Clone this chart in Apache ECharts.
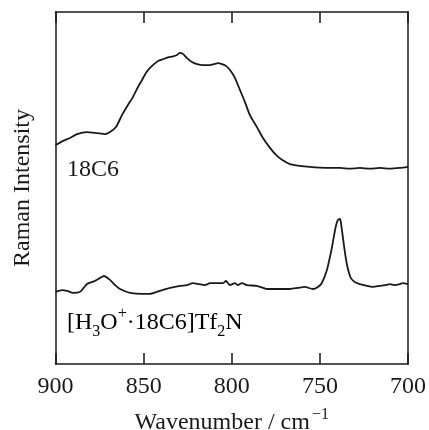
<!DOCTYPE html>
<html>
<head>
<meta charset="utf-8">
<script src="https://cdn.jsdelivr.net/npm/echarts@6/dist/echarts.min.js"></script>
<style>
  html, body { margin: 0; padding: 0; background: #fff; }
  #chart { width: 429px; height: 430px; }
</style>
</head>
<body>
<div id="chart"></div>
<script>
// Raman spectra, wavenumber (cm-1) vs. intensity (arbitrary units, offset traces)
const xTicks = [900, 850, 800, 750, 700];

const wn18C6 = [900, 895.7, 891.8, 887.8, 882.1, 876.5, 871.9, 869.1, 865.7, 862.3, 858.9, 856.0, 853.2, 850.9,
  848.7, 846.4, 844.1, 841.8, 839.0, 836.2, 833.3, 831.1, 829.4, 827.7, 825.4, 822.6, 819.7, 816.3, 812.4,
  810.1, 807.8, 805.5, 803.3, 801.0, 798.2, 795.3, 792.5, 789.7, 785.7, 782.3, 778.3, 774.9, 771.5, 767.0,
  761.3, 755.7, 750.0, 744.3, 738.6, 733.0, 727.3, 721.6, 716.0, 710.3, 704.6, 700];
const int18C6 = [62.2, 63.4, 64.2, 65.3, 65.9, 65.6, 65.3, 65.9, 67.3, 70.7, 73.6, 75.9, 78.7, 80.7,
  82.7, 84.1, 85.2, 86.1, 86.6, 87.1, 87.4, 87.8, 88.4, 88.1, 86.9, 85.8, 85.2, 84.9, 84.9,
  85.2, 85.5, 85.2, 84.7, 83.5, 81.3, 77.8, 74.4, 70.7, 67.3, 64.2, 61.4, 59.4, 58.0, 56.8,
  56.3, 56.0, 55.8, 55.7, 55.7, 55.5, 55.7, 55.5, 55.7, 55.5, 55.7, 56.0];

const wnComplex = [900, 896.3, 892.9, 890.1, 886.1, 882.1, 877.6, 874.8, 872.5, 869.1, 866.2, 863.4, 857.7,
  850.4, 846.4, 842.4, 835.0, 829.4, 825.4, 822.0, 818.6, 815.2, 812.3, 808.9, 804.9, 803.3, 801.0, 798.2,
  796.5, 794.2, 791.4, 785.7, 780.0, 773.8, 767.0, 762.5, 758.5, 754.0, 751.1, 748.9, 746.0, 744.3, 743.2,
  742.0, 740.9, 739.8, 738.6, 738.1, 736.9, 735.8, 734.7, 733.5, 732.4, 730.2, 727.3, 723.3, 719.9, 716.0,
  713.1, 710.3, 707.4, 704.6, 702.9, 700];
const intComplex = [20.5, 21.0, 20.7, 20.2, 20.5, 22.7, 23.6, 24.4, 25.0, 23.9, 22.4, 21.3, 20.2,
  19.9, 19.9, 20.5, 21.6, 22.2, 22.4, 23.0, 22.7, 22.4, 23.0, 23.0, 23.0, 23.6, 22.4, 23.0,
  22.4, 23.0, 22.4, 22.2, 21.3, 21.3, 21.3, 21.6, 21.9, 21.3, 21.9, 23.0, 26.7, 30.4, 33.0,
  36.4, 39.2, 40.9, 41.2, 40.3, 35.8, 31.8, 28.4, 25.9, 24.4, 23.3, 22.7, 22.2, 21.9, 22.2,
  22.4, 22.7, 22.4, 22.7, 23.0, 22.7];

const pairs = (xs, ys) => xs.map((x, i) => [x, ys[i]]);

const FONT = 'Liberation Serif';
const FS = 24;
const INK = '#1a1a1a';

const chart = echarts.init(document.getElementById('chart'), null, { renderer: 'canvas' });

const axisLine = { show: true, onZero: false, lineStyle: { color: INK, width: 1.5 } };
const innerTick = { show: true, inside: true, length: 11, lineStyle: { color: INK, width: 1.5 } };

chart.setOption({
  backgroundColor: '#fff',
  animation: false,
  grid: { left: 55.5, right: 21, top: 12, bottom: 66, containLabel: false, outerBoundsMode: 'none' },
  xAxis: [
    {
      type: 'value', position: 'bottom', inverse: true,
      min: 700, max: 900, interval: 50,
      axisLine: axisLine,
      axisTick: innerTick,
      axisLabel: {
        margin: 11, fontFamily: FONT, fontSize: FS, color: INK,
        formatter: v => xTicks.includes(v) ? String(v) : ''
      },
      splitLine: { show: false },
      name: '{t|Wavenumber / cm}{s|−1}',
      nameLocation: 'middle', nameGap: 43,
      nameTextStyle: {
        rich: {
          t: { fontFamily: FONT, fontSize: FS, color: INK },
          s: { fontFamily: FONT, fontSize: 16, color: INK, verticalAlign: 'bottom', padding: [0, 0, 16, 2] }
        }
      }
    },
    {
      type: 'value', position: 'top', inverse: true,
      min: 700, max: 900, interval: 50,
      axisLine: axisLine,
      axisTick: innerTick,
      axisLabel: { show: false },
      splitLine: { show: false }
    }
  ],
  yAxis: [
    {
      type: 'value', position: 'left', min: 0, max: 100,
      axisLine: axisLine, axisTick: { show: false }, axisLabel: { show: false },
      splitLine: { show: false },
      name: 'Raman Intensity', nameLocation: 'middle', nameGap: 21,
      nameTextStyle: { fontFamily: FONT, fontSize: FS, color: INK }
    },
    {
      type: 'value', position: 'right', min: 0, max: 100,
      axisLine: axisLine, axisTick: { show: false }, axisLabel: { show: false },
      splitLine: { show: false }
    }
  ],
  series: [
    {
      name: '18C6', type: 'line', xAxisIndex: 0, yAxisIndex: 0,
      data: pairs(wn18C6, int18C6), showSymbol: false, smooth: 0.2,
      lineStyle: { color: INK, width: 1.8 }
    },
    {
      name: '[H3O+·18C6]Tf2N', type: 'line', xAxisIndex: 0, yAxisIndex: 0,
      data: pairs(wnComplex, intComplex), showSymbol: false, smooth: 0.2,
      lineStyle: { color: INK, width: 1.8 }
    }
  ],
  graphic: [
    {
      type: 'text', left: 67, top: 158,
      style: { text: '18C6', font: FS + 'px "Liberation Serif"', fill: INK }
    },
    {
      type: 'text', left: 67, top: 306,
      style: {
        text: '{n|[H}{b|3}{n|O}{p|+}{n|·18C6]Tf}{b|2}{n|N}',
        rich: {
          n: { fontFamily: FONT, fontSize: FS, color: INK },
          b: { fontFamily: FONT, fontSize: 16, color: INK, verticalAlign: 'bottom', padding: [9, 0, 0, 0] },
          p: { fontFamily: FONT, fontSize: 16, color: INK, verticalAlign: 'top', padding: [0, 0, 18, 0] }
        }
      }
    }
  ]
});
</script>
</body>
</html>
